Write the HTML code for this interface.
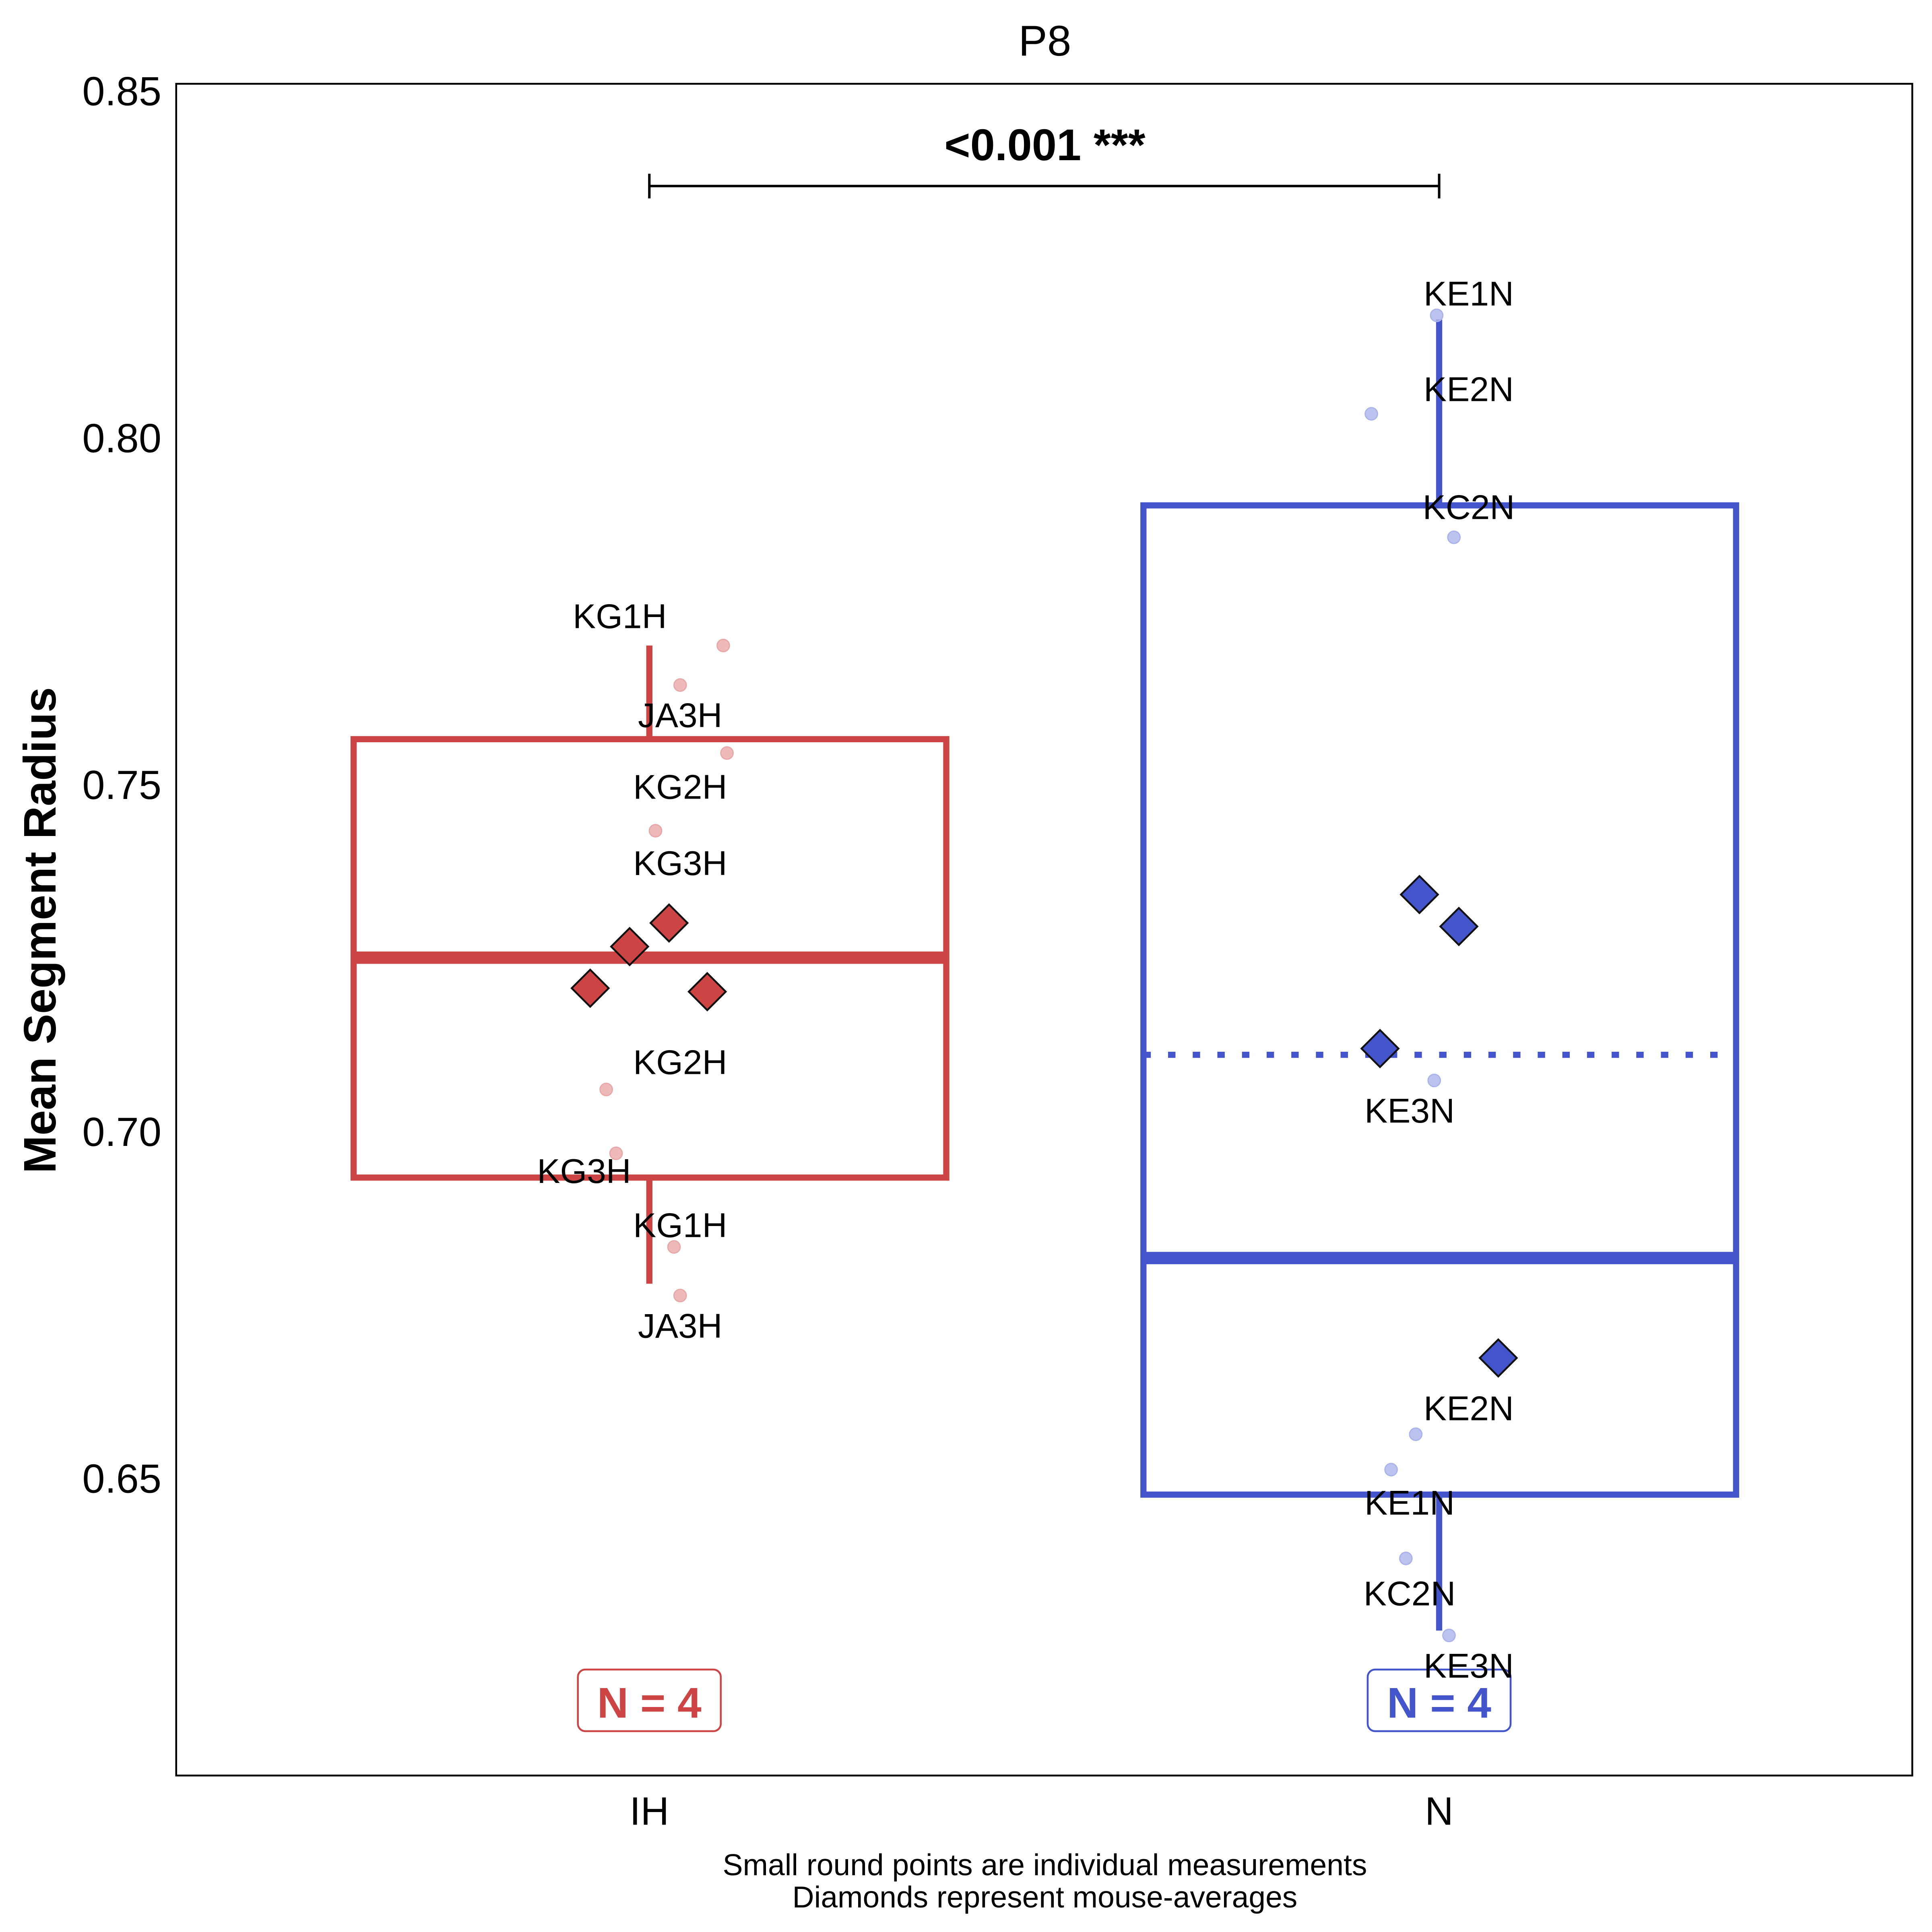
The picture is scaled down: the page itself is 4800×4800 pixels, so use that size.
<!DOCTYPE html>
<html><head><meta charset="utf-8"><style>html,body{margin:0;padding:0;background:#fff}svg{display:block}text{font-family:"Liberation Sans",sans-serif}</style></head>
<body>
<svg id="chart" width="4800" height="4800" viewBox="0 0 1568 1568" xmlns="http://www.w3.org/2000/svg">
<rect x="0" y="0" width="1568" height="1568" fill="#fff"/>
<g id="g"></g>
</svg>
<script>
const categories = ["IH","N"];
const yTicks = [0.65,0.70,0.75,0.80,0.85];
const q1 = [0.6933,0.6476];
const q3 = [0.7565,0.7902];
const medians = [0.725,0.6817];
const means = [null,0.711];
const whiskLo = [0.678,0.628];
const whiskHi = [0.770,0.817];
const ptsIH = [0.770,0.7643,0.7545,0.7433,0.706,0.6968,0.6833,0.6763];
const jitIH = [60,25,63,5,-35,-27,20,25];
const ptsN = [0.8176,0.8034,0.7856,0.7073,0.6563,0.6512,0.6384,0.6273];
const jitN = [-2,-55,12,-4,-19,-39,-27,8];
const labIH = ["KG1H","JA3H","KG2H","KG3H","KG2H","KG3H","KG1H","JA3H"];
const labIHv = [0.7743,0.7600,0.7497,0.7387,0.7100,0.6943,0.6865,0.6720];
const labIHx = [-24,25,25,25,25,-53,25,25];
const labN = ["KE1N","KE2N","KC2N","KE3N","KE2N","KE1N","KC2N","KE3N"];
const labNv = [0.8208,0.8070,0.7900,0.7030,0.6601,0.6465,0.6334,0.6230];
const labNx = [24,24,24,-24,24,-24,-24,24];
const diaIH = [0.7206,0.7266,0.730,0.7201];
const diaIHx = [-48,-16,16,47];
const diaN = [0.7341,0.7295,0.7119,0.6673];
const diaNx = [-16,16,-48,48];
const counts = [4,4];
const pText = "<0.001 ***";

const colors = ["#cc4444","#4455cc"];
const light = ["#e8a8a8","#aab4ea"];
const X0=143,X1=1552,Y0=68,Y1=1441;
const y = v => 355 + (0.80 - v)/0.05*281.5;
const x = i => 527 + i*641;
const NS="http://www.w3.org/2000/svg";
const g=document.getElementById('g');
function mk(tag,attrs,parent){const e=document.createElementNS(NS,tag);for(const k in attrs)e.setAttribute(k,attrs[k]);(parent||g).appendChild(e);return e;}

const frame=mk('rect',{x:X0,y:Y0,width:X1-X0,height:Y1-Y0,fill:'none',stroke:'#000','stroke-width':1.5});



yTicks.forEach(v=>{
  const l=mk('text',{x:X0-12,y:y(v)+12,'text-anchor':'end','font-size':33});
  l.textContent=v.toFixed(2);
  
  
});

categories.forEach((c,i)=>{
  const cx=x(i),col=colors[i];
  const w1=mk('line',{x1:cx,x2:cx,y1:y(whiskHi[i]),y2:y(q3[i]),stroke:col,'stroke-width':5});
  
  
  const w2=mk('line',{x1:cx,x2:cx,y1:y(q1[i]),y2:y(whiskLo[i]),stroke:col,'stroke-width':5});
  
  
  const b=mk('rect',{x:cx-240,y:y(q3[i]),width:481,height:y(q1[i])-y(q3[i]),fill:'none',stroke:col,'stroke-width':5});
  
  
  const m=mk('line',{x1:cx-240,x2:cx+241,y1:y(medians[i]),y2:y(medians[i]),stroke:col,'stroke-width':10});
  
  
  if(means[i]!==null){
    const mm=mk('line',{x1:cx-240,x2:cx+241,y1:y(means[i]),y2:y(means[i]),stroke:col,'stroke-width':5,'stroke-dasharray':'6 14'});
    
    
  }
  const pts=i?ptsN:ptsIH, jit=i?jitN:jitIH;
  pts.forEach((v,k)=>{
    const p=mk('circle',{cx:cx+jit[k],cy:y(v),r:5,fill:light[i],stroke:light[i],'stroke-width':1,'fill-opacity':0.8});
    
    
  });
  const dv=i?diaN:diaIH, dx=i?diaNx:diaIHx;
  dv.forEach((v,k)=>{
    const px=cx+dx[k],py=y(v),s=15;
    const d=mk('polygon',{points:`${px},${py-s} ${px+s},${py} ${px},${py+s} ${px-s},${py}`,fill:col,stroke:'#111','stroke-width':1.5});
    
    
  });
  const nb=mk('rect',{x:cx-58,y:1355,width:116,height:50,rx:6,fill:'#fff',stroke:col,'stroke-width':1.5});
  
  
  const nt=mk('text',{x:cx,y:1394,'text-anchor':'middle','font-size':35,'font-weight':'bold',fill:col});
  nt.textContent='N = '+counts[i];
  
  
  const labs=i?labN:labIH, lv=i?labNv:labIHv, lx=i?labNx:labIHx;
  labs.forEach((t,k)=>{
    const tx=mk('text',{x:cx+lx[k],y:y(lv[k])+10,'text-anchor':'middle','font-size':28});
    tx.textContent=t;
    
    
  });
  const xl=mk('text',{x:cx,y:1481,'text-anchor':'middle','font-size':32});
  xl.textContent=c;
  
  
});

const br=mk('path',{d:`M${x(0)},141 V161 M${x(0)},151 H${x(1)} M${x(1)},141 V161`,stroke:'#000','stroke-width':2,fill:'none'});


const pt=mk('text',{x:848,y:130,'text-anchor':'middle','font-size':36,'font-weight':'bold'});
pt.textContent=pText;



const title=mk('text',{x:848,y:45,'text-anchor':'middle','font-size':35});
title.textContent='P8';


const yt=mk('text',{x:0,y:0,'text-anchor':'middle','font-size':37,'font-weight':'bold',transform:'translate(45,755) rotate(-90)'});
yt.textContent='Mean Segment Radius';


const c1=mk('text',{x:848,y:1522,'text-anchor':'middle','font-size':24.5});
c1.textContent='Small round points are individual measurements';


const c2=mk('text',{x:848,y:1548,'text-anchor':'middle','font-size':24.5});
c2.textContent='Diamonds represent mouse-averages';


</script>
</body></html>
